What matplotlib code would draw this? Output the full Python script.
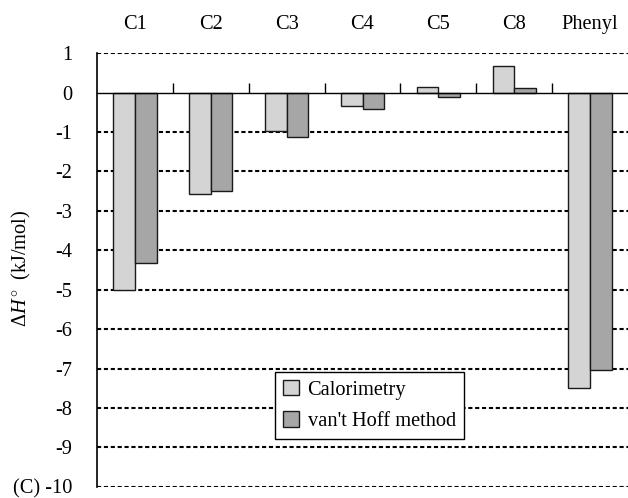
import matplotlib
matplotlib.use("Agg")
import matplotlib.pyplot as plt
import numpy as np

categories = ["C1", "C2", "C3", "C4", "C5", "C8", "Phenyl"]
calorimetry = [-5.00, -2.58, -0.97, -0.35, 0.14, 0.67, -7.50]
vant_hoff = [-4.32, -2.50, -1.13, -0.41, -0.10, 0.11, -7.03]
yticks = list(range(-10, 2))
ytick_labels = ["(C) -10"] + [str(v) for v in range(-9, 2)]

plt.rcParams["font.family"] = ["Liberation Serif", "DejaVu Serif"]
plt.rcParams["mathtext.fontset"] = "custom"
plt.rcParams["mathtext.rm"] = "Liberation Serif"
plt.rcParams["mathtext.it"] = "Liberation Serif:italic"

fs = 14.7
fig = plt.figure(figsize=(6.28, 4.98), dpi=100)
ax = fig.add_axes([97/628, 1-486.7/498, 531/628, (486.7-53.3)/498])

x = np.arange(len(categories))
w = 0.285
ax.bar(x - w/2, calorimetry, w, color="#D4D4D4", edgecolor="#1a1a1a", linewidth=1.0,
       label="Calorimetry", zorder=3)
ax.bar(x + w/2, vant_hoff, w, color="#A6A6A6", edgecolor="#1a1a1a", linewidth=1.0,
       label="van't Hoff method", zorder=3)

ax.set_xlim(-0.5, len(categories) - 0.5)
ax.set_ylim(-10, 1)

# dotted gridlines
for v in yticks:
    if v != 0:
        ax.axhline(v, color="black", linestyle=(0, (2, 1.3)), linewidth=1.5, zorder=1)

ax.spines["top"].set_visible(False)
ax.spines["right"].set_visible(False)
ax.spines["bottom"].set_position(("data", 0))
ax.spines["bottom"].set_linewidth(1.0)
ax.spines["bottom"].set_zorder(4)
ax.spines["left"].set_linewidth(1.2)

ax.set_xticks(np.arange(0.5, len(categories) - 1, 1.0))
ax.set_xticklabels([])
ax.tick_params(axis="x", direction="in", length=7, width=1.0)

ax.set_yticks(yticks)
ax.set_yticklabels(ytick_labels, fontsize=fs)
ax.tick_params(axis="y", length=0, pad=18)

sec = ax.secondary_xaxis("top")
sec.set_xticks(x)
sec.set_xticklabels(categories, fontsize=fs)
sec.tick_params(length=0, pad=14)
sec.spines["top"].set_visible(False)

ax.set_ylabel(r"$\Delta H\,^{\circ}\;$ (kJ/mol)", fontsize=fs)
ax.yaxis.set_label_coords(-0.1205, 0.505)

leg = ax.legend(loc="lower left", bbox_to_anchor=(0.335, 0.11), fontsize=fs,
                frameon=True, fancybox=False, edgecolor="black", framealpha=1,
                handlelength=0.8, handleheight=0.8, handletextpad=0.4,
                borderpad=0.4, labelspacing=0.55, borderaxespad=0)
leg.get_frame().set_linewidth(1.0)

fig.savefig("out.png", dpi=100)
